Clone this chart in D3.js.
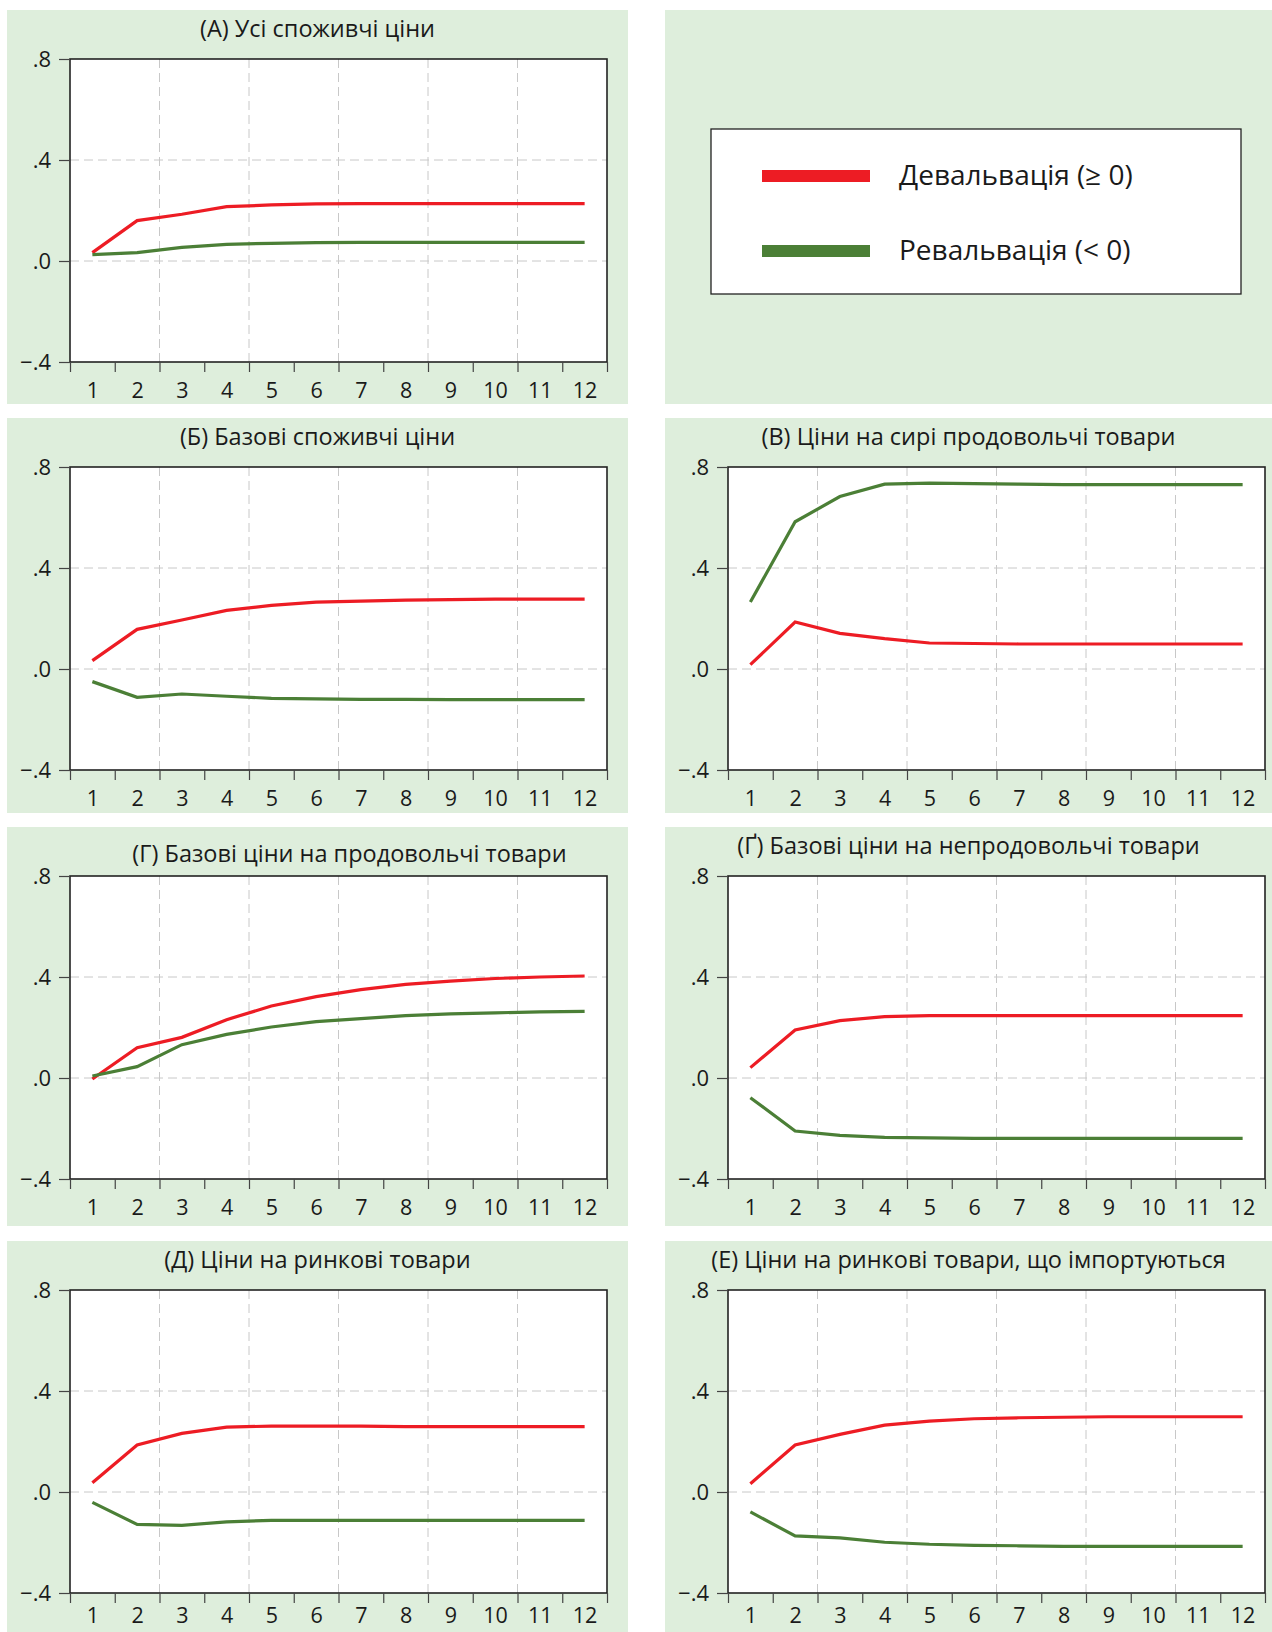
<!DOCTYPE html>
<html>
<head>
<meta charset="utf-8">
<script src="https://cdn.jsdelivr.net/npm/d3@7"></script>
<style>
  body { margin: 0; background: #fff; }
  svg { display: block; font-family: "Open Sans", "Noto Sans", sans-serif; }
</style>
</head>
<body>
<svg id="chart" width="1272" height="1632"></svg>
<script>
const months = [1, 2, 3, 4, 5, 6, 7, 8, 9, 10, 11, 12];
const yTicks = [-0.4, 0, 0.4, 0.8];
const legendLabels = ["Девальвація (≥ 0)", "Ревальвація (< 0)"];

const titles = [
  "(А) Усі споживчі ціни",
  "(Б) Базові споживчі ціни",
  "(В) Ціни на сирі продовольчі товари",
  "(Г) Базові ціни на продовольчі товари",
  "(Ґ) Базові ціни на непродовольчі товари",
  "(Д) Ціни на ринкові товари",
  "(Е) Ціни на ринкові товари, що імпортуються"
];

// Девальвація (red) / Ревальвація (green)
const devA = [0.033, 0.160, 0.185, 0.215, 0.222, 0.226, 0.227, 0.227, 0.227, 0.227, 0.227, 0.227];
const revA = [0.025, 0.033, 0.054, 0.066, 0.070, 0.073, 0.074, 0.074, 0.074, 0.074, 0.074, 0.074];

const devB = [0.033, 0.157, 0.194, 0.232, 0.252, 0.265, 0.269, 0.273, 0.275, 0.277, 0.277, 0.277];
const revB = [-0.050, -0.112, -0.099, -0.108, -0.116, -0.118, -0.120, -0.120, -0.121, -0.121, -0.121, -0.121];

const devV = [0.017, 0.186, 0.141, 0.120, 0.103, 0.101, 0.099, 0.099, 0.099, 0.099, 0.099, 0.099];
const revV = [0.265, 0.583, 0.683, 0.732, 0.736, 0.734, 0.732, 0.730, 0.730, 0.730, 0.730, 0.730];

const devG = [-0.004, 0.120, 0.161, 0.231, 0.285, 0.322, 0.350, 0.371, 0.384, 0.394, 0.400, 0.404];
const revG = [0.008, 0.045, 0.132, 0.173, 0.202, 0.223, 0.235, 0.247, 0.254, 0.258, 0.262, 0.264];

const devGg = [0.041, 0.190, 0.227, 0.243, 0.247, 0.247, 0.247, 0.247, 0.247, 0.247, 0.247, 0.247];
const revGg = [-0.078, -0.210, -0.227, -0.235, -0.237, -0.239, -0.239, -0.239, -0.239, -0.239, -0.239, -0.239];

const devD = [0.037, 0.186, 0.232, 0.257, 0.261, 0.261, 0.261, 0.259, 0.259, 0.259, 0.259, 0.259];
const revD = [-0.041, -0.128, -0.132, -0.118, -0.112, -0.112, -0.112, -0.112, -0.112, -0.112, -0.112, -0.112];

const devE = [0.033, 0.186, 0.228, 0.265, 0.281, 0.290, 0.294, 0.296, 0.298, 0.298, 0.298, 0.298];
const revE = [-0.079, -0.174, -0.182, -0.199, -0.207, -0.211, -0.213, -0.215, -0.215, -0.215, -0.215, -0.215];

const red = "#ed1c24";
const green = "#4b7f36";
const panelBg = "#deeedc";
const font = "'Open Sans', 'Noto Sans', sans-serif";

const svg = d3.select("#chart");

// panel grid
const colX = [7, 665];
const colW = [621, 607];
const rowY = [10, 418, 827, 1241];
const rowH = [394, 395, 399, 391];
const frame = { left: 63, top: 49, width: 537, height: 303 };

const panels = [
  { title: titles[0], dev: devA, rev: revA, col: 0, row: 0 },
  { legend: true, col: 1, row: 0 },
  { title: titles[1], dev: devB, rev: revB, col: 0, row: 1 },
  { title: titles[2], dev: devV, rev: revV, col: 1, row: 1 },
  { title: titles[3], dev: devG, rev: revG, col: 0, row: 2, titleDx: 32, titleDy: 8 },
  { title: titles[4], dev: devGg, rev: revGg, col: 1, row: 2 },
  { title: titles[5], dev: devD, rev: revD, col: 0, row: 3 },
  { title: titles[6], dev: devE, rev: revE, col: 1, row: 3 }
];

const x = d3.scaleLinear().domain([0.5, 12.5]).range([0, frame.width]);
const y = d3.scaleLinear().domain([-0.4, 0.8]).range([frame.height, 0]);
const fmtY = d => d3.format(".1f")(d).replace("0.", ".");

const line = d3.line()
  .x((d, i) => x(months[i]))
  .y(d => y(d));

panels.forEach(p => {
  const px = colX[p.col], py = rowY[p.row];
  const pg = svg.append("g").attr("transform", `translate(${px},${py})`);

  pg.append("rect")
    .attr("width", colW[p.col])
    .attr("height", rowH[p.row])
    .attr("fill", panelBg);

  if (p.legend) {
    const lg = pg.append("g").attr("transform", "translate(46,119)");
    lg.append("rect")
      .attr("width", 530).attr("height", 165)
      .attr("fill", "#fff").attr("stroke", "#222").attr("stroke-width", 1.3);
    [red, green].forEach((c, i) => {
      const ly = 47 + i * 75;
      lg.append("line")
        .attr("x1", 51).attr("x2", 159)
        .attr("y1", ly).attr("y2", ly)
        .attr("stroke", c).attr("stroke-width", 12);
      lg.append("text")
        .attr("x", 188).attr("y", ly - 2)
        .attr("dominant-baseline", "central")
        .attr("font-size", 28)
        .attr("fill", "#1a1a1a")
        .text(legendLabels[i]);
    });
    return;
  }

  pg.append("text")
    .attr("x", colW[p.col] / 2 + (p.titleDx || 0))
    .attr("y", 18 + (p.titleDy || 0))
    .attr("text-anchor", "middle")
    .attr("dominant-baseline", "central")
    .attr("font-size", 23.5)
    .attr("fill", "#1a1a1a")
    .text(p.title);

  const g = pg.append("g").attr("transform", `translate(${frame.left},${frame.top})`);

  g.append("rect")
    .attr("width", frame.width).attr("height", frame.height)
    .attr("fill", "#fff");

  // dashed grid
  g.selectAll(".vgrid")
    .data([2.5, 4.5, 6.5, 8.5, 10.5])
    .join("line")
    .attr("x1", d => x(d)).attr("x2", d => x(d))
    .attr("y1", 0).attr("y2", frame.height)
    .attr("stroke", "#c8c8c8").attr("stroke-width", 1)
    .attr("stroke-dasharray", "9 5");

  g.selectAll(".hgrid")
    .data([0, 0.4])
    .join("line")
    .attr("x1", 0).attr("x2", frame.width)
    .attr("y1", d => y(d)).attr("y2", d => y(d))
    .attr("stroke", "#c8c8c8").attr("stroke-width", 1)
    .attr("stroke-dasharray", "9 5");

  // lines
  g.append("path").datum(p.dev)
    .attr("fill", "none").attr("stroke", red)
    .attr("stroke-width", 3.2).attr("d", line);
  g.append("path").datum(p.rev)
    .attr("fill", "none").attr("stroke", green)
    .attr("stroke-width", 3.2).attr("d", line);

  // frame
  g.append("rect")
    .attr("width", frame.width).attr("height", frame.height)
    .attr("fill", "none").attr("stroke", "#222").attr("stroke-width", 1.6);

  // x axis: tick marks at band edges, labels at centres
  const xTickAxis = g.append("g")
    .attr("transform", `translate(0,${frame.height})`)
    .call(d3.axisBottom(x)
      .tickValues(d3.range(0.5, 13, 1))
      .tickSize(10)
      .tickFormat(""));
  xTickAxis.select(".domain").remove();
  xTickAxis.selectAll("line").attr("stroke", "#444").attr("stroke-width", 1.2);

  // last row sits at the page edge, so its labels are nudged up to stay whole
  const pad = p.row === 3 ? 15 : 21;
  const xLabelAxis = g.append("g")
    .attr("transform", `translate(0,${frame.height})`)
    .call(d3.axisBottom(x).tickValues(months).tickSize(0).tickPadding(pad));
  xLabelAxis.select(".domain").remove();
  xLabelAxis.selectAll("text")
    .attr("font-size", 21.5)
    .attr("font-family", font)
    .attr("fill", "#1a1a1a");

  const yAxis = g.append("g")
    .call(d3.axisLeft(y).tickValues(yTicks).tickSize(11).tickPadding(8).tickFormat(fmtY));
  yAxis.select(".domain").remove();
  yAxis.selectAll("line").attr("stroke", "#444").attr("stroke-width", 1.2);
  yAxis.selectAll("text")
    .attr("font-size", 22)
    .attr("font-family", font)
    .attr("fill", "#1a1a1a");
});
</script>
</body>
</html>
